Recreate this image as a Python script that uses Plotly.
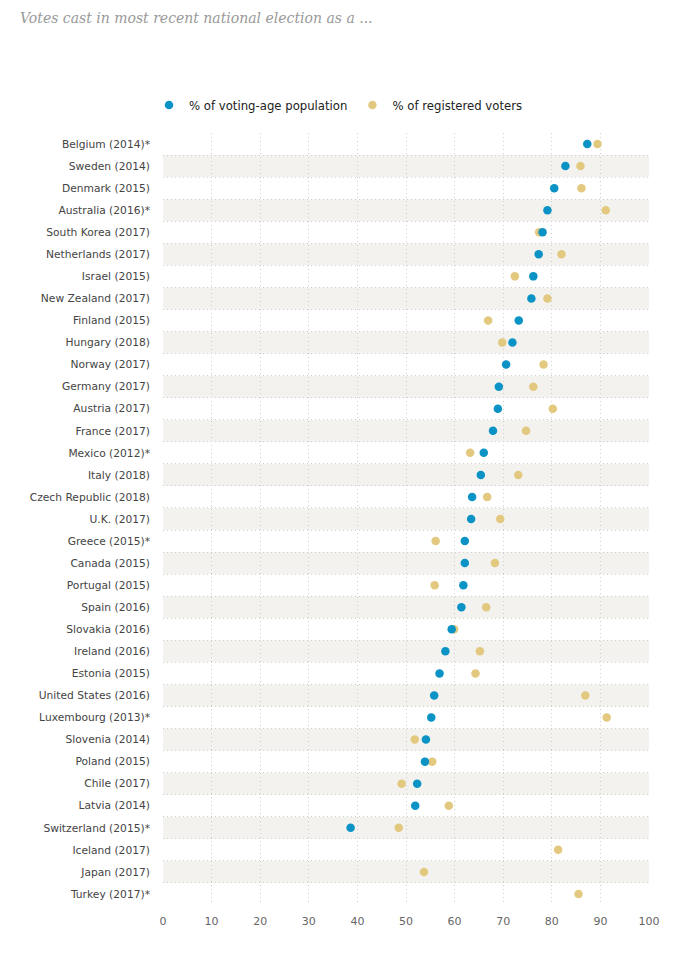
import plotly.graph_objects as go

countries = [
    "Belgium (2014)*", "Sweden (2014)", "Denmark (2015)", "Australia (2016)*",
    "South Korea (2017)", "Netherlands (2017)", "Israel (2015)", "New Zealand (2017)",
    "Finland (2015)", "Hungary (2018)", "Norway (2017)", "Germany (2017)",
    "Austria (2017)", "France (2017)", "Mexico (2012)*", "Italy (2018)",
    "Czech Republic (2018)", "U.K. (2017)", "Greece (2015)*", "Canada (2015)",
    "Portugal (2015)", "Spain (2016)", "Slovakia (2016)", "Ireland (2016)",
    "Estonia (2015)", "United States (2016)", "Luxembourg (2013)*", "Slovenia (2014)",
    "Poland (2015)", "Chile (2017)", "Latvia (2014)", "Switzerland (2015)*",
    "Iceland (2017)", "Japan (2017)", "Turkey (2017)*",
]

vap = [
    87.3, 82.8, 80.5, 79.1, 78.1, 77.3, 76.2, 75.8,
    73.2, 71.9, 70.6, 69.1, 68.9, 67.9, 66.0, 65.4,
    63.6, 63.4, 62.1, 62.1, 61.8, 61.4, 59.4, 58.1,
    56.9, 55.8, 55.2, 54.1, 53.9, 52.3, 51.9, 38.6,
    None, None, None,
]

reg = [
    89.4, 85.9, 86.1, 91.1, 77.4, 82.0, 72.4, 79.1,
    66.9, 69.8, 78.3, 76.2, 80.2, 74.7, 63.2, 73.1,
    66.7, 69.4, 56.1, 68.3, 55.9, 66.5, 59.9, 65.2,
    64.3, 86.9, 91.3, 51.8, 55.4, 49.1, 58.8, 48.5,
    81.3, 53.7, 85.5,
]

x_ticks = [0, 10, 20, 30, 40, 50, 60, 70, 80, 90, 100]

BLUE = "#0a93c4"
GOLD = "#e3c97f"
BAND = "#f3f2ef"
GRID = "#cfcfcf"
DOTS = "1px,3px"

fig = go.Figure()

# registered voters drawn first so population dots sit on top
fig.add_trace(go.Scatter(
    x=reg, y=countries, mode="markers", name="% of registered voters",
    marker=dict(color=GOLD, size=8.5),
    cliponaxis=False,
))
fig.add_trace(go.Scatter(
    x=vap, y=countries, mode="markers", name="% of voting-age population",
    marker=dict(color=BLUE, size=8.5),
    cliponaxis=False,
))

n = len(countries)
shapes = []
for i in range(n):
    if i % 2 == 1:
        shapes.append(dict(
            type="rect", xref="paper", yref="y", x0=0, x1=1,
            y0=i - 0.5, y1=i + 0.5, fillcolor=BAND, line=dict(width=0),
            layer="below",
        ))

fig.update_layout(
    width=686, height=953,
    margin=dict(l=163, r=37, t=133, b=48),
    paper_bgcolor="white", plot_bgcolor="white",
    font=dict(family="DejaVu Sans", size=11, color="#444"),
    title=dict(
        text="Votes cast in most recent national election as a ...",
        font=dict(family="DejaVu Serif", size=14, color="#999", style="italic"),
        x=20 / 686, xanchor="left", y=1 - 18 / 953, yanchor="middle",
        xref="container", yref="container",
    ),
    showlegend=True,
    legend=dict(
        orientation="h", x=-14 / 486, xanchor="left", y=1 + 28 / 772, yanchor="middle",
        xref="paper", yref="paper",
        font=dict(family="DejaVu Sans", size=11.7, color="#222"),
        itemwidth=30, traceorder="reversed",
        bgcolor="rgba(0,0,0,0)",
    ),
    shapes=shapes,
    xaxis=dict(
        range=[0, 100], tickvals=x_ticks, ticktext=[str(t) for t in x_ticks],
        showgrid=True, gridcolor=GRID, griddash=DOTS, gridwidth=1,
        zeroline=False, showline=False, ticks="",
        ticklabelstandoff=8,
        tickfont=dict(family="DejaVu Sans", size=11, color="#666"),
        layer="above traces",
    ),
    yaxis=dict(
        type="category", categoryorder="array", categoryarray=countries,
        range=[n - 0.5, -0.5],
        tickson="boundaries", showgrid=True, gridcolor=GRID, griddash=DOTS,
        gridwidth=1, zeroline=False, showline=False, ticks="",
        ticklabelstandoff=12,
        tickfont=dict(family="DejaVu Sans", size=10.7, color="#444"),
    ),
)

fig.write_html("out.html")
